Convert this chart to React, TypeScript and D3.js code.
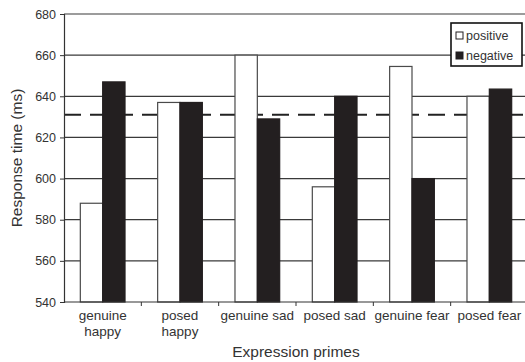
import * as d3 from "d3";
import { useRef, useEffect } from "react";

const categories = ["genuine happy", "posed happy", "genuine sad", "posed sad", "genuine fear", "posed fear"];
const categoryLines = [["genuine", "happy"], ["posed", "happy"], ["genuine sad"], ["posed sad"], ["genuine fear"], ["posed fear"]];
const series = ["positive", "negative"];
const positiveValues = [588, 637, 660, 596, 654.5, 640];
const negativeValues = [647, 637, 629, 640, 600, 643.5];
const meanLine = 631;
const yTicks = [540, 560, 580, 600, 620, 640, 660, 680];

const width = 525;
const height = 362;
const marginLeft = 64;
const plotRight = 528;
const marginTop = 14;
const plotBottom = 302;

export default function App() {
  const containerRef = useRef<HTMLDivElement | null>(null);

  useEffect(() => {
    document.body.style.margin = "0";
    d3.select(containerRef.current).selectAll("svg").remove();

    const font = "'Liberation Sans', Arial, sans-serif";

    const x = d3.scaleBand().domain(categories).range([marginLeft, plotRight]).padding(0);
    const xs = d3.scaleBand().domain(series).range([0, x.bandwidth()]).paddingInner(0).paddingOuter(0.73);
    const y = d3.scaleLinear().domain([540, 680]).range([plotBottom, marginTop]);

    const svg = d3.create("svg")
      .attr("width", width)
      .attr("height", height)
      .attr("viewBox", [0, 0, width, height])
      .style("display", "block")
      .style("font-family", font);

    svg.append("rect").attr("width", width).attr("height", height).attr("fill", "#fff");

    // gridlines
    svg.append("g")
      .selectAll("line")
      .data(yTicks.slice(1))
      .join("line")
      .attr("x1", marginLeft)
      .attr("x2", plotRight)
      .attr("y1", d => y(d))
      .attr("y2", d => y(d))
      .attr("stroke", "#3a3a3a")
      .attr("stroke-width", 1.2);

    // dashed mean line
    svg.append("line")
      .attr("x1", marginLeft)
      .attr("x2", plotRight)
      .attr("y1", y(meanLine))
      .attr("y2", y(meanLine))
      .attr("stroke", "#222")
      .attr("stroke-width", 2)
      .attr("stroke-dasharray", "17,9");

    const rows = categories.map((c, i) => [
      { cat: c, s: "positive", v: positiveValues[i] },
      { cat: c, s: "negative", v: negativeValues[i] },
    ]).flat();

    svg.append("g")
      .selectAll("rect")
      .data(rows)
      .join("rect")
      .attr("x", d => (x(d.cat) || 0) + (xs(d.s) || 0))
      .attr("width", xs.bandwidth())
      .attr("y", d => y(d.v))
      .attr("height", d => y(540) - y(d.v))
      .attr("fill", d => d.s === "positive" ? "#fff" : "#231f20")
      .attr("stroke", d => d.s === "positive" ? "#4a4a4a" : "#231f20")
      .attr("stroke-width", 1.2);

    // y axis
    const yAxis = svg.append("g")
      .attr("transform", `translate(${marginLeft},0)`)
      .call(d3.axisLeft(y).tickValues(yTicks).tickSize(4).tickPadding(4));
    yAxis.select(".domain").attr("stroke", "#333").attr("stroke-width", 1.2);
    yAxis.selectAll(".tick line").attr("stroke", "#333");
    yAxis.selectAll(".tick text")
      .attr("font-size", 12.5)
      .attr("font-family", font)
      .attr("fill", "#333");

    // x axis
    const xAxisG = svg.append("g").attr("transform", `translate(0,${plotBottom})`);
    xAxisG.append("line")
      .attr("x1", marginLeft).attr("x2", plotRight)
      .attr("stroke", "#333").attr("stroke-width", 1.2);
    xAxisG.selectAll(".tk")
      .data(categories.slice(1))
      .join("line")
      .attr("class", "tk")
      .attr("x1", d => x(d) || 0)
      .attr("x2", d => x(d) || 0)
      .attr("y1", 0)
      .attr("y2", 4)
      .attr("stroke", "#333");

    const labels = svg.append("g")
      .attr("font-size", 13.5)
      .attr("fill", "#333")
      .attr("text-anchor", "middle");
    categories.forEach((c, i) => {
      const t = labels.append("text")
        .attr("x", (x(c) || 0) + x.bandwidth() / 2)
        .attr("y", plotBottom + 18);
      categoryLines[i].forEach((line, j) => {
        t.append("tspan")
          .attr("x", (x(c) || 0) + x.bandwidth() / 2)
          .attr("dy", j === 0 ? 0 : 16)
          .text(line);
      });
    });

    svg.append("text")
      .attr("x", (marginLeft + plotRight) / 2)
      .attr("y", 357)
      .attr("text-anchor", "middle")
      .attr("font-size", 15.5)
      .attr("fill", "#333")
      .text("Expression primes");

    svg.append("text")
      .attr("transform", `translate(22,${(marginTop + plotBottom) / 2}) rotate(-90)`)
      .attr("text-anchor", "middle")
      .attr("font-size", 15.5)
      .attr("fill", "#333")
      .text("Response time (ms)");

    // legend
    const legend = svg.append("g").attr("transform", "translate(451,23)");
    legend.append("rect")
      .attr("width", 71)
      .attr("height", 43)
      .attr("fill", "#fff")
      .attr("stroke", "#111")
      .attr("stroke-width", 1.6);
    series.forEach((s, i) => {
      legend.append("rect")
        .attr("x", 5)
        .attr("y", 9 + i * 20)
        .attr("width", 7)
        .attr("height", 7)
        .attr("fill", s === "positive" ? "#fff" : "#231f20")
        .attr("stroke", "#231f20");
      legend.append("text")
        .attr("x", 15)
        .attr("y", 17 + i * 20)
        .attr("font-size", 12.5)
        .attr("fill", "#333")
        .text(s);
    });

    const node = svg.node();
    if (containerRef.current && node) containerRef.current.appendChild(node);
  }, []);

  return <div ref={containerRef}></div>;
}
